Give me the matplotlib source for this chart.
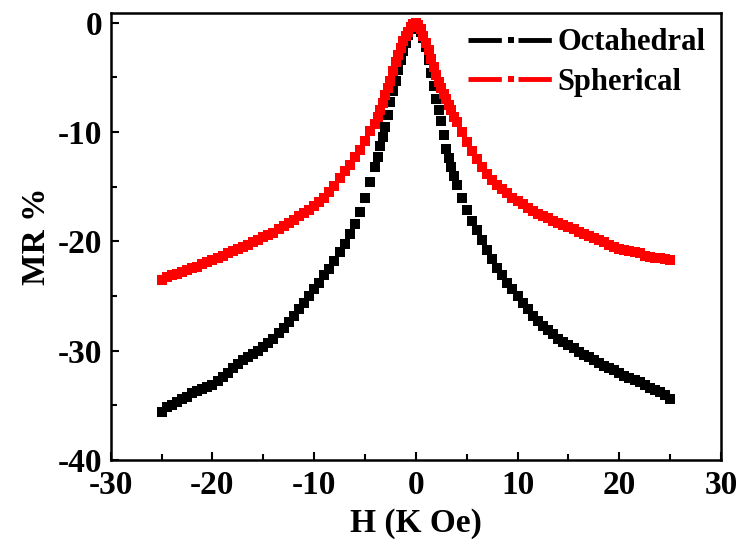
import numpy as np
import matplotlib
matplotlib.use("Agg")
import matplotlib.pyplot as plt
from matplotlib.lines import Line2D

# field sweep, K Oe: 0.5 K Oe steps in the wings, 0.25 K Oe near zero field
field = np.concatenate([np.arange(-25, -4.1, 0.5),
						np.arange(-4, 4.01, 0.25),
						np.arange(4.5, 25.01, 0.5)])

mr_octahedral = [
	# -25 .. -4.5
	-35.6, -35.2, -35.0, -34.7, -34.4, -34.2, -33.9, -33.7, -33.5, -33.3,
	-33.1, -32.8, -32.4, -32.0, -31.6, -31.2, -30.9, -30.6, -30.3, -30.0,
	-29.7, -29.3, -28.9, -28.4, -27.9, -27.4, -26.8, -26.2, -25.6, -25.0,
	-24.4, -23.8, -23.1, -22.5, -21.8, -21.0, -20.2, -19.3, -18.4, -17.3,
	-16.0, -14.6,
	# -4 .. 0
	-13.2, -12.3, -11.3, -10.4, -9.5, -8.4, -7.2, -6.2, -5.3, -4.3,
	-3.4, -2.6, -1.8, -1.1, -0.6, -0.2, 0.0,
	# 0.25 .. 4
	-0.3, -0.8, -1.4, -2.2, -3.4, -4.6, -5.8, -7.0, -8.0, -9.0,
	-10.3, -11.5, -12.4, -13.2, -14.0, -14.8,
	# 4.5 .. 25
	-16.0, -17.1, -18.1, -19.0, -19.9, -20.8, -21.6, -22.4, -23.1, -23.8,
	-24.4, -25.0, -25.6, -26.2, -26.8, -27.3, -27.7, -28.1, -28.5, -28.9,
	-29.2, -29.5, -29.8, -30.1, -30.4, -30.6, -30.9, -31.1, -31.4, -31.6,
	-31.8, -32.0, -32.3, -32.5, -32.7, -32.9, -33.1, -33.4, -33.6, -33.8,
	-34.1, -34.4,
]

mr_spherical = [
	# -25 .. -4.5
	-23.5, -23.3, -23.1, -23.0, -22.8, -22.6, -22.4, -22.3, -22.1, -21.9,
	-21.7, -21.5, -21.3, -21.1, -20.9, -20.7, -20.5, -20.3, -20.1, -19.9,
	-19.6, -19.4, -19.2, -18.9, -18.6, -18.3, -18.0, -17.7, -17.4, -17.1,
	-16.8, -16.4, -16.0, -15.5, -14.9, -14.2, -13.6, -13.0, -12.3, -11.6,
	-10.8, -9.9,
	# -4 .. 0
	-9.3, -8.6, -8.0, -7.3, -6.6, -6.0, -5.3, -4.4, -3.6, -2.9,
	-2.3, -1.7, -1.2, -0.8, -0.4, -0.1, 0.0,
	# 0.25 .. 4
	-0.2, -0.6, -1.2, -1.8, -2.5, -3.3, -4.0, -4.8, -5.4, -6.0,
	-6.5, -7.0, -7.5, -8.0, -8.6, -9.1,
	# 4.5 .. 25
	-10.0, -10.9, -11.7, -12.5, -13.2, -13.8, -14.4, -14.8, -15.2, -15.6,
	-16.0, -16.3, -16.6, -16.9, -17.2, -17.5, -17.7, -17.9, -18.1, -18.3,
	-18.5, -18.7, -18.9, -19.1, -19.3, -19.5, -19.7, -19.9, -20.1, -20.3,
	-20.5, -20.7, -20.8, -20.9, -21.0, -21.1, -21.3, -21.4, -21.5, -21.5,
	-21.6, -21.7,
]

labels = ["Octahedral", "Spherical"]
colors = ["black", "#ff0000"]


def plot():
	plt.rcParams['font.family'] = 'Liberation Serif'
	plt.rcParams['font.weight'] = 'bold'
	plt.rcParams['lines.scale_dashes'] = False
	plt.rcParams['axes.unicode_minus'] = False

	fig = plt.figure(figsize=(7.38, 5.43), dpi=100)
	ax = fig.add_axes([0.150, 0.153, 0.827, 0.823])

	ax.plot(field, mr_octahedral, linestyle='none', marker='s', markersize=7.2,
			color=colors[0], markeredgewidth=0)
	ax.plot(field, mr_spherical, linestyle='none', marker='s', markersize=7.2,
			color=colors[1], markeredgewidth=0)

	ax.set_xlim(-30, 30)
	ax.set_ylim(-40, 0.9)
	ax.set_xticks([-30, -20, -10, 0, 10, 20, 30])
	ax.set_xticks([-25, -15, -5, 5, 15, 25], minor=True)
	ax.set_yticks([-40, -30, -20, -10, 0])
	ax.set_yticks([-35, -25, -15, -5], minor=True)
	ax.tick_params(which='both', direction='in', top=False, right=False,
				   width=1.5, labelsize=24)
	ax.tick_params(which='major', length=6)
	ax.tick_params(which='minor', length=4)
	ax.tick_params(axis='y', pad=6)
	ax.tick_params(axis='x', pad=7)
	for sp in ax.spines.values():
		sp.set_linewidth(1.8)

	ax.set_xlabel('H (K Oe)', fontsize=24, fontweight='bold', labelpad=5)
	ax.set_ylabel('MR %', fontsize=24, fontweight='bold', labelpad=4)

	handles = [Line2D([], [], color=c, linewidth=3.5, linestyle=(0, (24, 12)),
					  marker='s', markersize=5, markeredgewidth=0) for c in colors]
	ax.legend(handles, labels, loc='upper right', frameon=False, fontsize=22,
			  handlelength=2.85, handletextpad=0.1, labelspacing=0.35,
			  borderaxespad=0.2, borderpad=0.3, numpoints=1)

	fig.savefig("out.png", dpi=100)


def main():
	plot()


if __name__ == "__main__":
	main()
